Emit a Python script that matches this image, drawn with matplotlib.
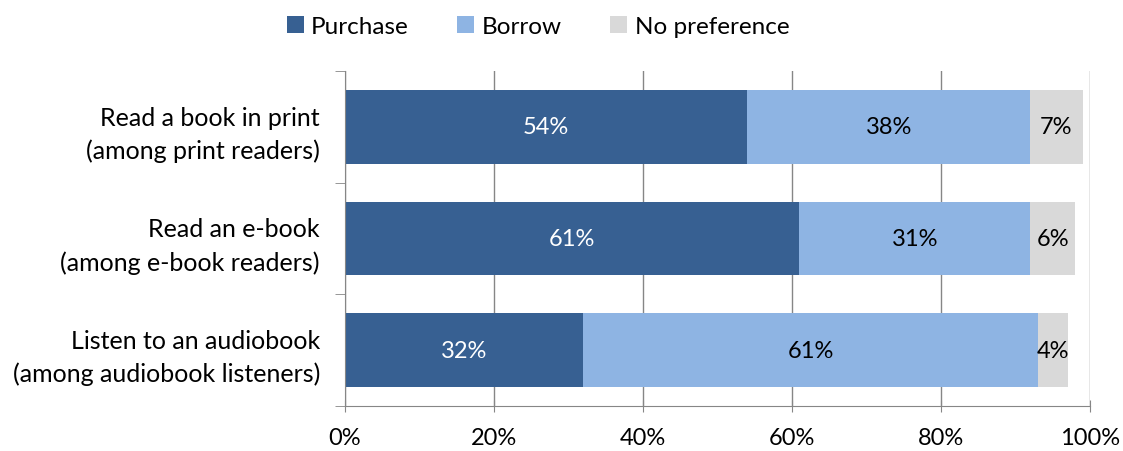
import numpy as np
import matplotlib
matplotlib.use('Agg')
import matplotlib.pyplot as plt

plt.rcParams['font.family'] = ['Lato', 'DejaVu Sans']

categories = ['Read a book in print\n(among print readers)',
              'Read an e-book\n(among e-book readers)',
              'Listen to an audiobook\n(among audiobook listeners)']
purchase = [54, 61, 32]
borrow = [38, 31, 61]
no_pref = [7, 6, 4]
series_names = ['Purchase', 'Borrow', 'No preference']
colors = ['#376092', '#8EB4E3', '#D9D9D9']
text_colors = ['white', 'black', 'black']

fig = plt.figure(figsize=(11.23, 4.52), dpi=100)
ax = fig.add_axes([345 / 1123, 45 / 452, 745 / 1123, 335 / 452])

y = np.arange(len(categories))
left = np.zeros(len(categories))
for vals, name, col, tc in zip([purchase, borrow, no_pref], series_names, colors, text_colors):
    vals = np.array(vals, dtype=float)
    ax.barh(y, vals, left=left, height=0.66, color=col, label=name, zorder=2)
    for yi, l, v in zip(y, left, vals):
        ax.text(l + v / 2, yi, f'{int(v)}%', ha='center', va='center',
                color=tc, fontsize=17, zorder=3)
    left += vals

ax.set_xlim(0, 100)
ax.set_ylim(2.5, -0.5)
ax.set_xticks(np.arange(0, 101, 20))
ax.set_xticklabels([f'{t}%' for t in range(0, 101, 20)], fontsize=17)
ax.set_yticks(y)
ax.set_yticklabels(categories, fontsize=18, linespacing=1.5)
ax.set_yticks([-0.5, 0.5, 1.5, 2.5], minor=True)
ax.tick_params(axis='y', which='major', length=0, pad=18)
ax.tick_params(axis='y', which='minor', length=7, color='#868686', direction='out')
ax.tick_params(axis='x', length=8, color='#868686', direction='inout', pad=11)
ax.grid(axis='x', color='#868686', linewidth=1, zorder=0)
ax.set_axisbelow(True)
for s in ['top', 'right']:
    ax.spines[s].set_visible(False)
for s in ['left', 'bottom']:
    ax.spines[s].set_color('#868686')

fig.legend(loc='upper center', bbox_to_anchor=(0.479, 1.01), ncol=3, frameon=False,
           fontsize=17.5, handlelength=0.7, handleheight=0.7, handletextpad=0.3,
           columnspacing=2.0)

plt.savefig('out.png', dpi=100)
